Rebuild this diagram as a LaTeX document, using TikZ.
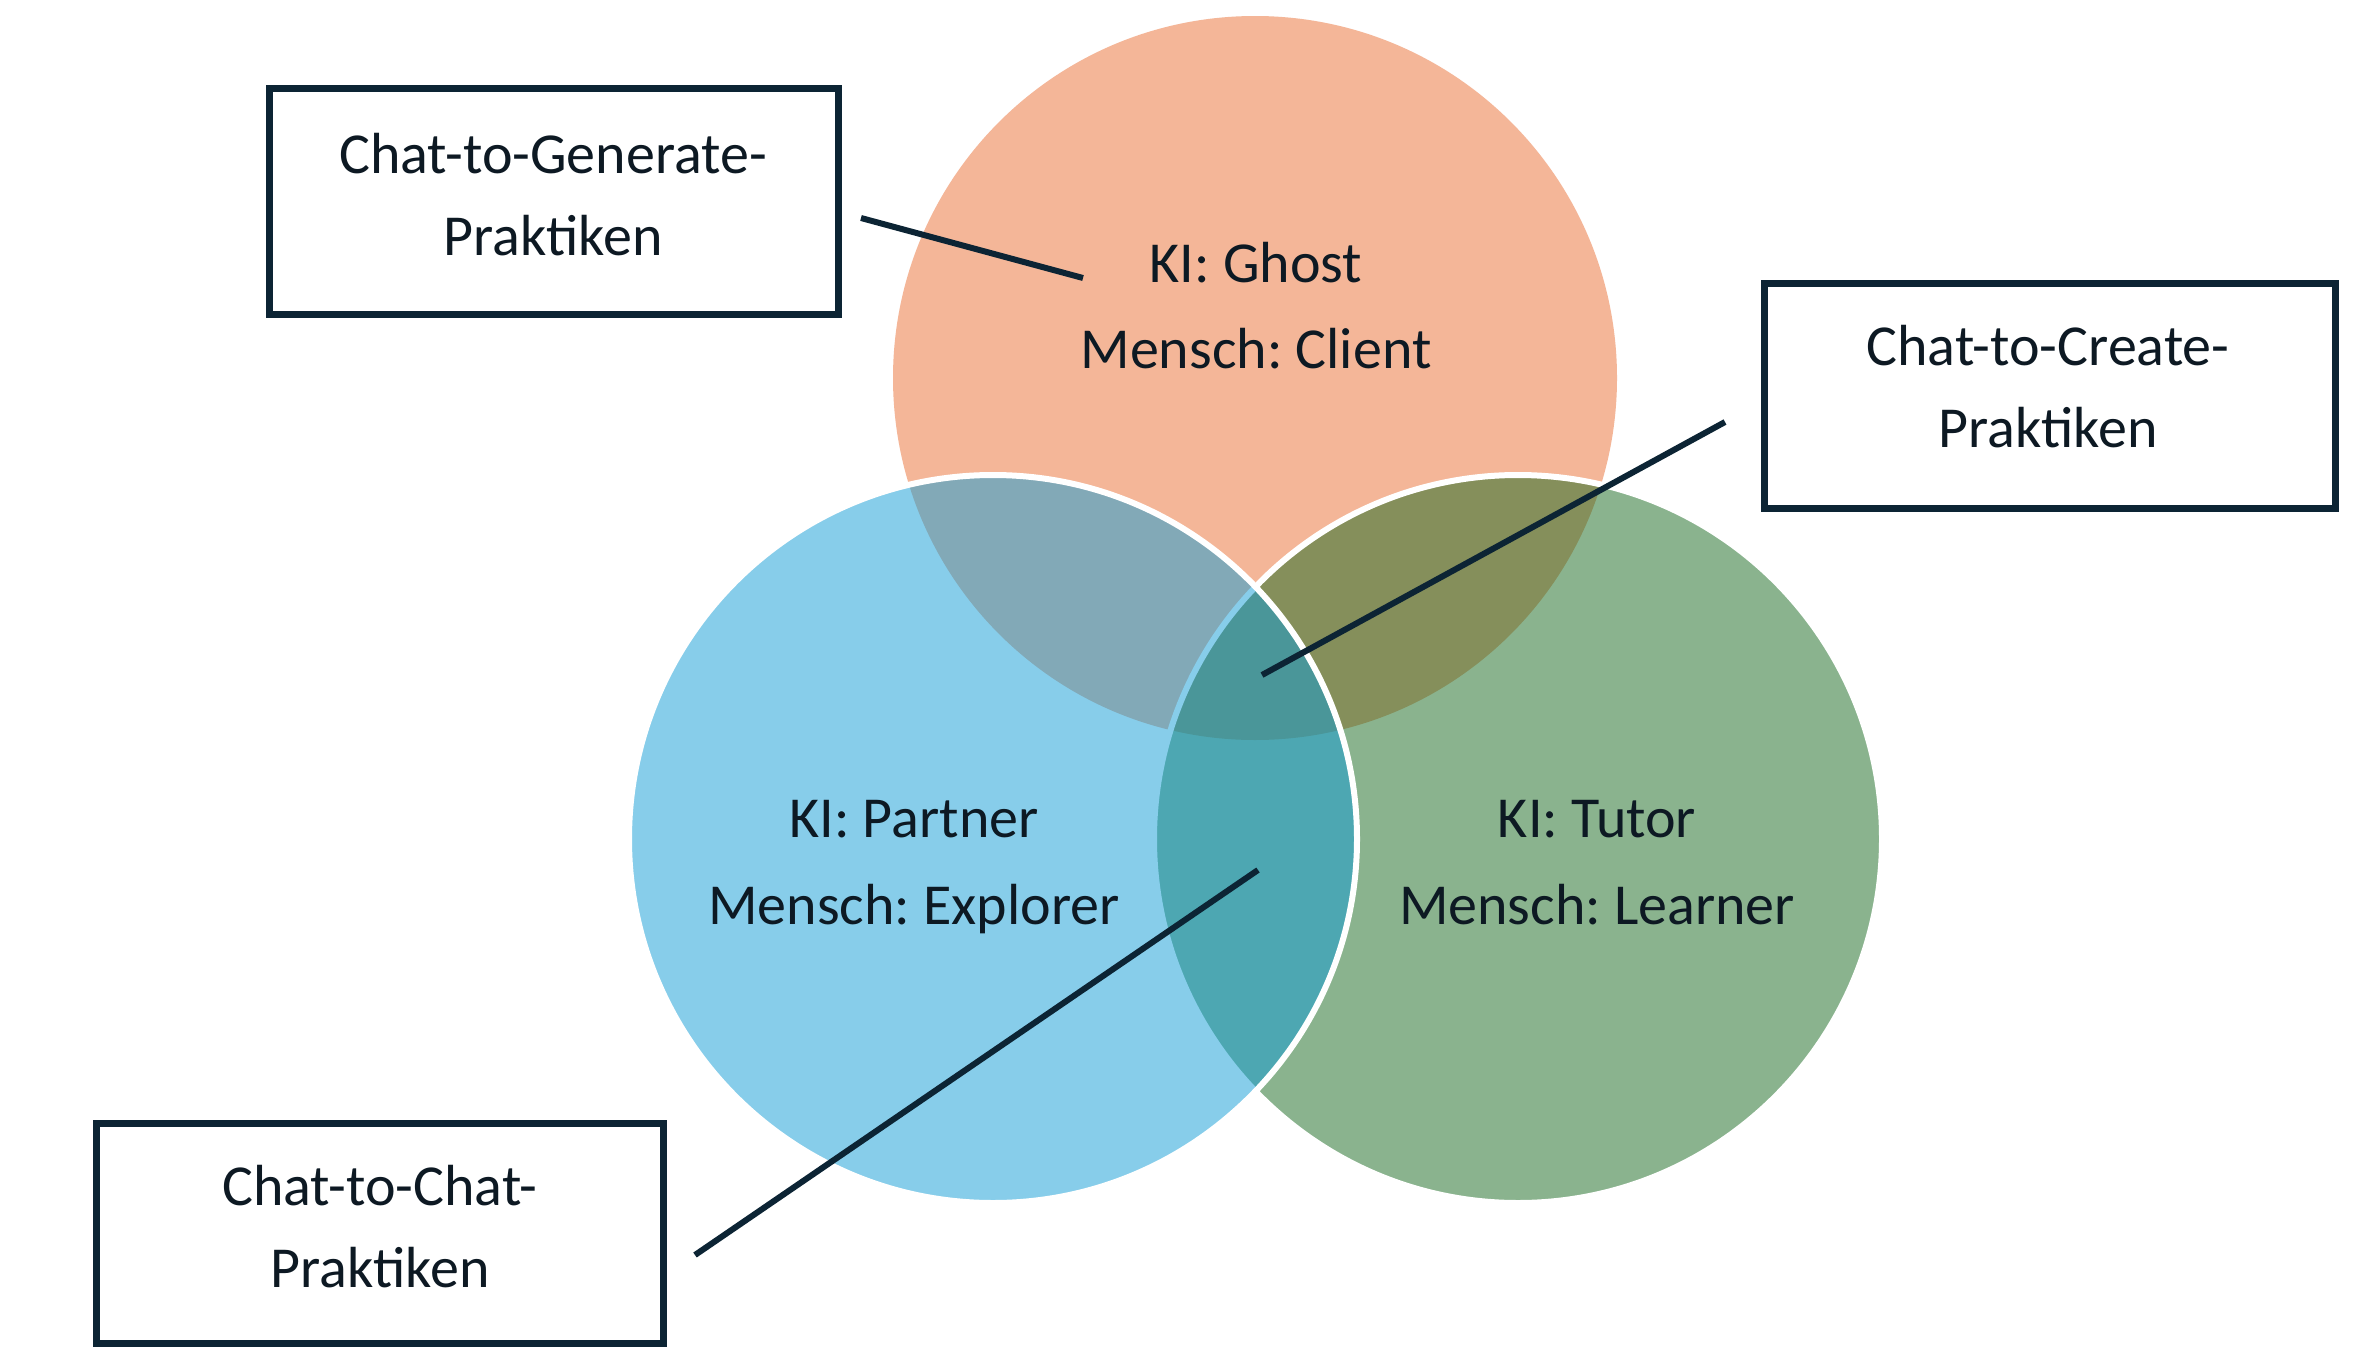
\documentclass[tikz,border=0pt]{standalone}
\usepackage{fontspec}
\setmainfont{Carlito}
\frenchspacing
\definecolor{orangeC}{RGB}{244,182,152}
\definecolor{blueC}{RGB}{17,157,215}
\definecolor{greenC}{RGB}{23,105,31}
\definecolor{navy}{RGB}{12,36,52}
\definecolor{txtc}{RGB}{13,25,35}
\begin{document}
\begin{tikzpicture}[x=1pt,y=-1pt,
  txt/.style={anchor=base, inner sep=0pt, text=txtc, font=\fontsize{58}{70}\selectfont\frenchspacing},
  box/.style={draw=navy, line width=7pt, fill=white, rectangle, inner sep=0pt},
  conn/.style={draw=navy, line width=6pt},
  venn/.style={circle, inner sep=0pt, draw=white, line width=6pt}]
\useasboundingbox (0,0) rectangle (2353,1349);
\fill[white] (0,0) rectangle (2353,1349);
% circles
\node[circle, inner sep=0pt, minimum size=724pt, fill=orangeC] (ghost) at (1255,378) {};
\node[venn, minimum size=728pt, fill=greenC, fill opacity=0.5] (tutor) at (1518,839) {};
\node[venn, minimum size=728pt, fill=blueC, fill opacity=0.5] (partner) at (993,839) {};
% circle labels
\node[txt] (ghost1) at (1256,282) {KI: Ghost};
\node[txt] (ghost2) at (1256,368) {Mensch: Client};
\node[txt] (partner1) at (914,837) {KI: Partner};
\node[txt] (partner2) at (914,924) {Mensch: Explorer};
\node[txt] (tutor1) at (1597,837) {KI: Tutor};
\node[txt] (tutor2) at (1597,924) {Mensch: Learner};
% boxes
\node[box, minimum width=569pt, minimum height=226pt] (gen) at (554,201.5) {};
\node[txt] (gen1) at (553,173) {Chat-to-Generate-};
\node[txt] (gen2) at (553,255) {Praktiken};
\node[box, minimum width=571pt, minimum height=225pt] (cre) at (2050,396) {};
\node[txt] (cre1) at (2048,365) {Chat-to-Create-};
\node[txt] (cre2) at (2048,447) {Praktiken};
\node[box, minimum width=567pt, minimum height=220pt] (cc) at (380,1233.5) {};
\node[txt] (cc1) at (380,1205) {Chat-to-Chat-};
\node[txt] (cc2) at (380,1287) {Praktiken};
% connectors
\coordinate (l1a) at (861,218);
\coordinate (l1b) at (1083,278);
\coordinate (l2a) at (1725,422);
\coordinate (l2b) at (1262,675);
\coordinate (l3a) at (695,1255);
\coordinate (l3b) at (1258,870);
\draw[conn] (l1a) -- (l1b);
\draw[conn] (l2a) -- (l2b);
\draw[conn] (l3a) -- (l3b);
\end{tikzpicture}
\end{document}
